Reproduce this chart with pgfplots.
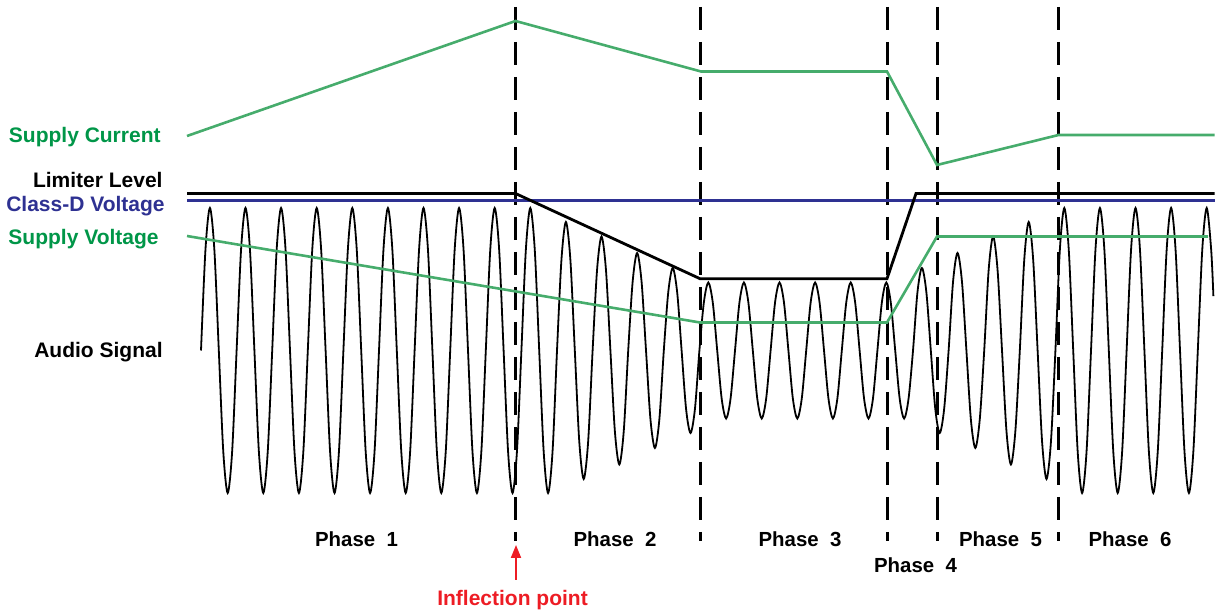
\documentclass[border=0pt]{standalone}
\usepackage{fontspec}
\setmainfont{Liberation Sans}
\usepackage{pgfplots}
\pgfplotsset{compat=1.18}
\usetikzlibrary{arrows.meta}
\definecolor{gline}{RGB}{70,172,108}
\definecolor{gtext}{RGB}{0,150,72}
\definecolor{cdblue}{RGB}{46,49,146}
\definecolor{ired}{RGB}{237,28,36}
\pgfplotsset{frame/.style={at={(0,0)}, anchor=south west, scale only axis,
  width=607.5pt, height=306.5pt, ymin=0, ymax=613, y dir=reverse, hide axis, clip=false}}
\begin{document}
\begin{tikzpicture}
\useasboundingbox (0,0) rectangle (607.5pt,306.5pt);
% Audio signal: x = sample index (8 samples per cycle), y in picture units
\begin{axis}[frame, xmin=-45.1685, xmax=227.8652]
\addplot[black, line width=0.9pt, smooth] table[row sep=\\] {
x y\\
0 350.5\\ 1 249.7\\ 2 208\\ 3 249.7\\ 4 350.5\\ 5 451.3\\ 6 493\\ 7 451.3\\
8 350.5\\ 9 249.7\\ 10 208\\ 11 249.7\\ 12 350.5\\ 13 451.3\\ 14 493\\ 15 451.3\\
16 350.5\\ 17 249.7\\ 18 208\\ 19 249.7\\ 20 350.5\\ 21 451.3\\ 22 493\\ 23 451.3\\
24 350.5\\ 25 249.7\\ 26 208\\ 27 249.7\\ 28 350.5\\ 29 451.3\\ 30 493\\ 31 451.3\\
32 350.5\\ 33 249.7\\ 34 208\\ 35 249.7\\ 36 350.5\\ 37 451.3\\ 38 493\\ 39 451.3\\
40 350.5\\ 41 249.7\\ 42 208\\ 43 249.7\\ 44 350.5\\ 45 451.3\\ 46 493\\ 47 451.3\\
48 350.5\\ 49 249.7\\ 50 208\\ 51 249.7\\ 52 350.5\\ 53 451.3\\ 54 493\\ 55 451.3\\
56 350.5\\ 57 249.7\\ 58 208\\ 59 249.7\\ 60 350.5\\ 61 451.3\\ 62 493\\ 63 451.3\\
64 350.5\\ 65 249.7\\ 66 208\\ 67 249.7\\ 68 350.5\\ 69 451.3\\ 70 493\\ 71 451.3\\
72 350.5\\ 73 249.7\\ 74 208\\ 75 249.7\\ 76 350.5\\ 77 451.3\\ 78 493\\ 79 451.3\\
80 350.5\\ 81 259.6\\ 82 222\\ 83 259.6\\ 84 350.5\\ 85 441.4\\ 86 479\\ 87 441.4\\
88 350.5\\ 89 269.9\\ 90 236.5\\ 91 269.9\\ 92 350.5\\ 93 431.1\\ 94 464.5\\ 95 431.1\\
96 350.5\\ 97 281.6\\ 98 253\\ 99 281.6\\ 100 350.5\\ 101 419.4\\ 102 448\\ 103 419.4\\
104 350.5\\ 105 292.2\\ 106 268\\ 107 292.2\\ 108 350.5\\ 109 408.8\\ 110 433\\ 111 408.8\\
112 350.5\\ 113 302.4\\ 114 282.5\\ 115 302.4\\ 116 350.5\\ 117 398.6\\ 118 418.5\\ 119 398.6\\
120 350.5\\ 121 302.4\\ 122 282.5\\ 123 302.4\\ 124 350.5\\ 125 398.6\\ 126 418.5\\ 127 398.6\\
128 350.5\\ 129 302.4\\ 130 282.5\\ 131 302.4\\ 132 350.5\\ 133 398.6\\ 134 418.5\\ 135 398.6\\
136 350.5\\ 137 302.4\\ 138 282.5\\ 139 302.4\\ 140 350.5\\ 141 398.6\\ 142 418.5\\ 143 398.6\\
144 350.5\\ 145 302.4\\ 146 282.5\\ 147 302.4\\ 148 350.5\\ 149 398.6\\ 150 418.5\\ 151 398.6\\
152 350.5\\ 153 302.4\\ 154 282.5\\ 155 302.4\\ 156 350.5\\ 157 398.6\\ 158 418.5\\ 159 398.6\\
160 350.5\\ 161 292.2\\ 162 268\\ 163 292.2\\ 164 350.5\\ 165 408.8\\ 166 433\\ 167 408.8\\
168 350.5\\ 169 281.6\\ 170 253\\ 171 281.6\\ 172 350.5\\ 173 419.4\\ 174 448\\ 175 419.4\\
176 350.5\\ 177 269.9\\ 178 236.5\\ 179 269.9\\ 180 350.5\\ 181 431.1\\ 182 464.5\\ 183 431.1\\
184 350.5\\ 185 259.6\\ 186 222\\ 187 259.6\\ 188 350.5\\ 189 441.4\\ 190 479\\ 191 441.4\\
192 350.5\\ 193 249.7\\ 194 208\\ 195 249.7\\ 196 350.5\\ 197 451.3\\ 198 493\\ 199 451.3\\
200 350.5\\ 201 249.7\\ 202 208\\ 203 249.7\\ 204 350.5\\ 205 451.3\\ 206 493\\ 207 451.3\\
208 350.5\\ 209 249.7\\ 210 208\\ 211 249.7\\ 212 350.5\\ 213 451.3\\ 214 493\\ 215 451.3\\
216 350.5\\ 217 249.7\\ 218 208\\ 219 249.7\\ 220 350.5\\ 221 451.3\\ 222 493\\ 223 451.3\\
224 350.5\\ 225 249.7\\ 226 208\\ 227 249.7\\ 227.5 296.1\\
};
\end{axis}
% Everything else in picture units (x right, y down)
\begin{axis}[frame, xmin=0, xmax=1215]
% phase boundaries
\addplot[black, line width=1.5pt, dash pattern=on 11.5pt off 6pt] coordinates {(515.5,7) (515.5,541)};
\addplot[black, line width=1.5pt, dash pattern=on 11.5pt off 6pt] coordinates {(700,7) (700,541)};
\addplot[black, line width=1.5pt, dash pattern=on 11.5pt off 6pt] coordinates {(887,7) (887,541)};
\addplot[black, line width=1.5pt, dash pattern=on 11.5pt off 6pt] coordinates {(937,7) (937,541)};
\addplot[black, line width=1.5pt, dash pattern=on 11.5pt off 6pt] coordinates {(1058.5,7) (1058.5,541)};
% supply current
\addplot[gline, line width=1.3pt] coordinates {(187,136) (515.5,21) (701,71.5) (887,71.5) (937,165) (1058.5,135) (1214.5,135)};
% class-D voltage
\addplot[cdblue, line width=1.4pt] coordinates {(187,200.7) (1214.5,200.7)};
% limiter level
\addplot[black, line width=1.4pt] coordinates {(187,193.5) (515.5,193.5) (700,278.7) (887,278.7) (916,193.5) (1214.5,193.5)};
% supply voltage
\addplot[gline, line width=1.3pt] coordinates {(187,236) (700,322.5) (887,322.5) (937,236.5) (1208,236.5)};
% inflection arrow
\addplot[ired, line width=1pt, -{Triangle[length=6.5pt,width=5pt]}] coordinates {(516,580) (516,545)};
% labels
\begin{scope}[every node/.style={inner sep=0pt, font=\fontsize{10.5}{12}\selectfont\bfseries}]
\node[anchor=base east, text=gtext] at (axis cs:161,143) {Supply Current};
\node[anchor=base east, text=black] at (axis cs:163,188) {Limiter Level};
\node[anchor=base east, text=cdblue] at (axis cs:165,212) {Class-D Voltage};
\node[anchor=base east, text=gtext] at (axis cs:159,245) {Supply Voltage};
\node[anchor=base east, text=black] at (axis cs:163,358) {Audio Signal};
\node[anchor=base, text=ired] at (axis cs:512.5,606) {Inflection point};
\end{scope}
\begin{scope}[every node/.style={inner sep=0pt, anchor=base, font=\fontsize{10.2}{12}\selectfont\bfseries}]
\node at (axis cs:356.5,547) {Phase\ \ 1};
\node at (axis cs:615,547) {Phase\ \ 2};
\node at (axis cs:800,547) {Phase\ \ 3};
\node at (axis cs:915.5,573) {Phase\ \ 4};
\node at (axis cs:1000.5,547) {Phase\ \ 5};
\node at (axis cs:1130,547) {Phase\ \ 6};
\end{scope}
\end{axis}
\end{tikzpicture}
\end{document}
